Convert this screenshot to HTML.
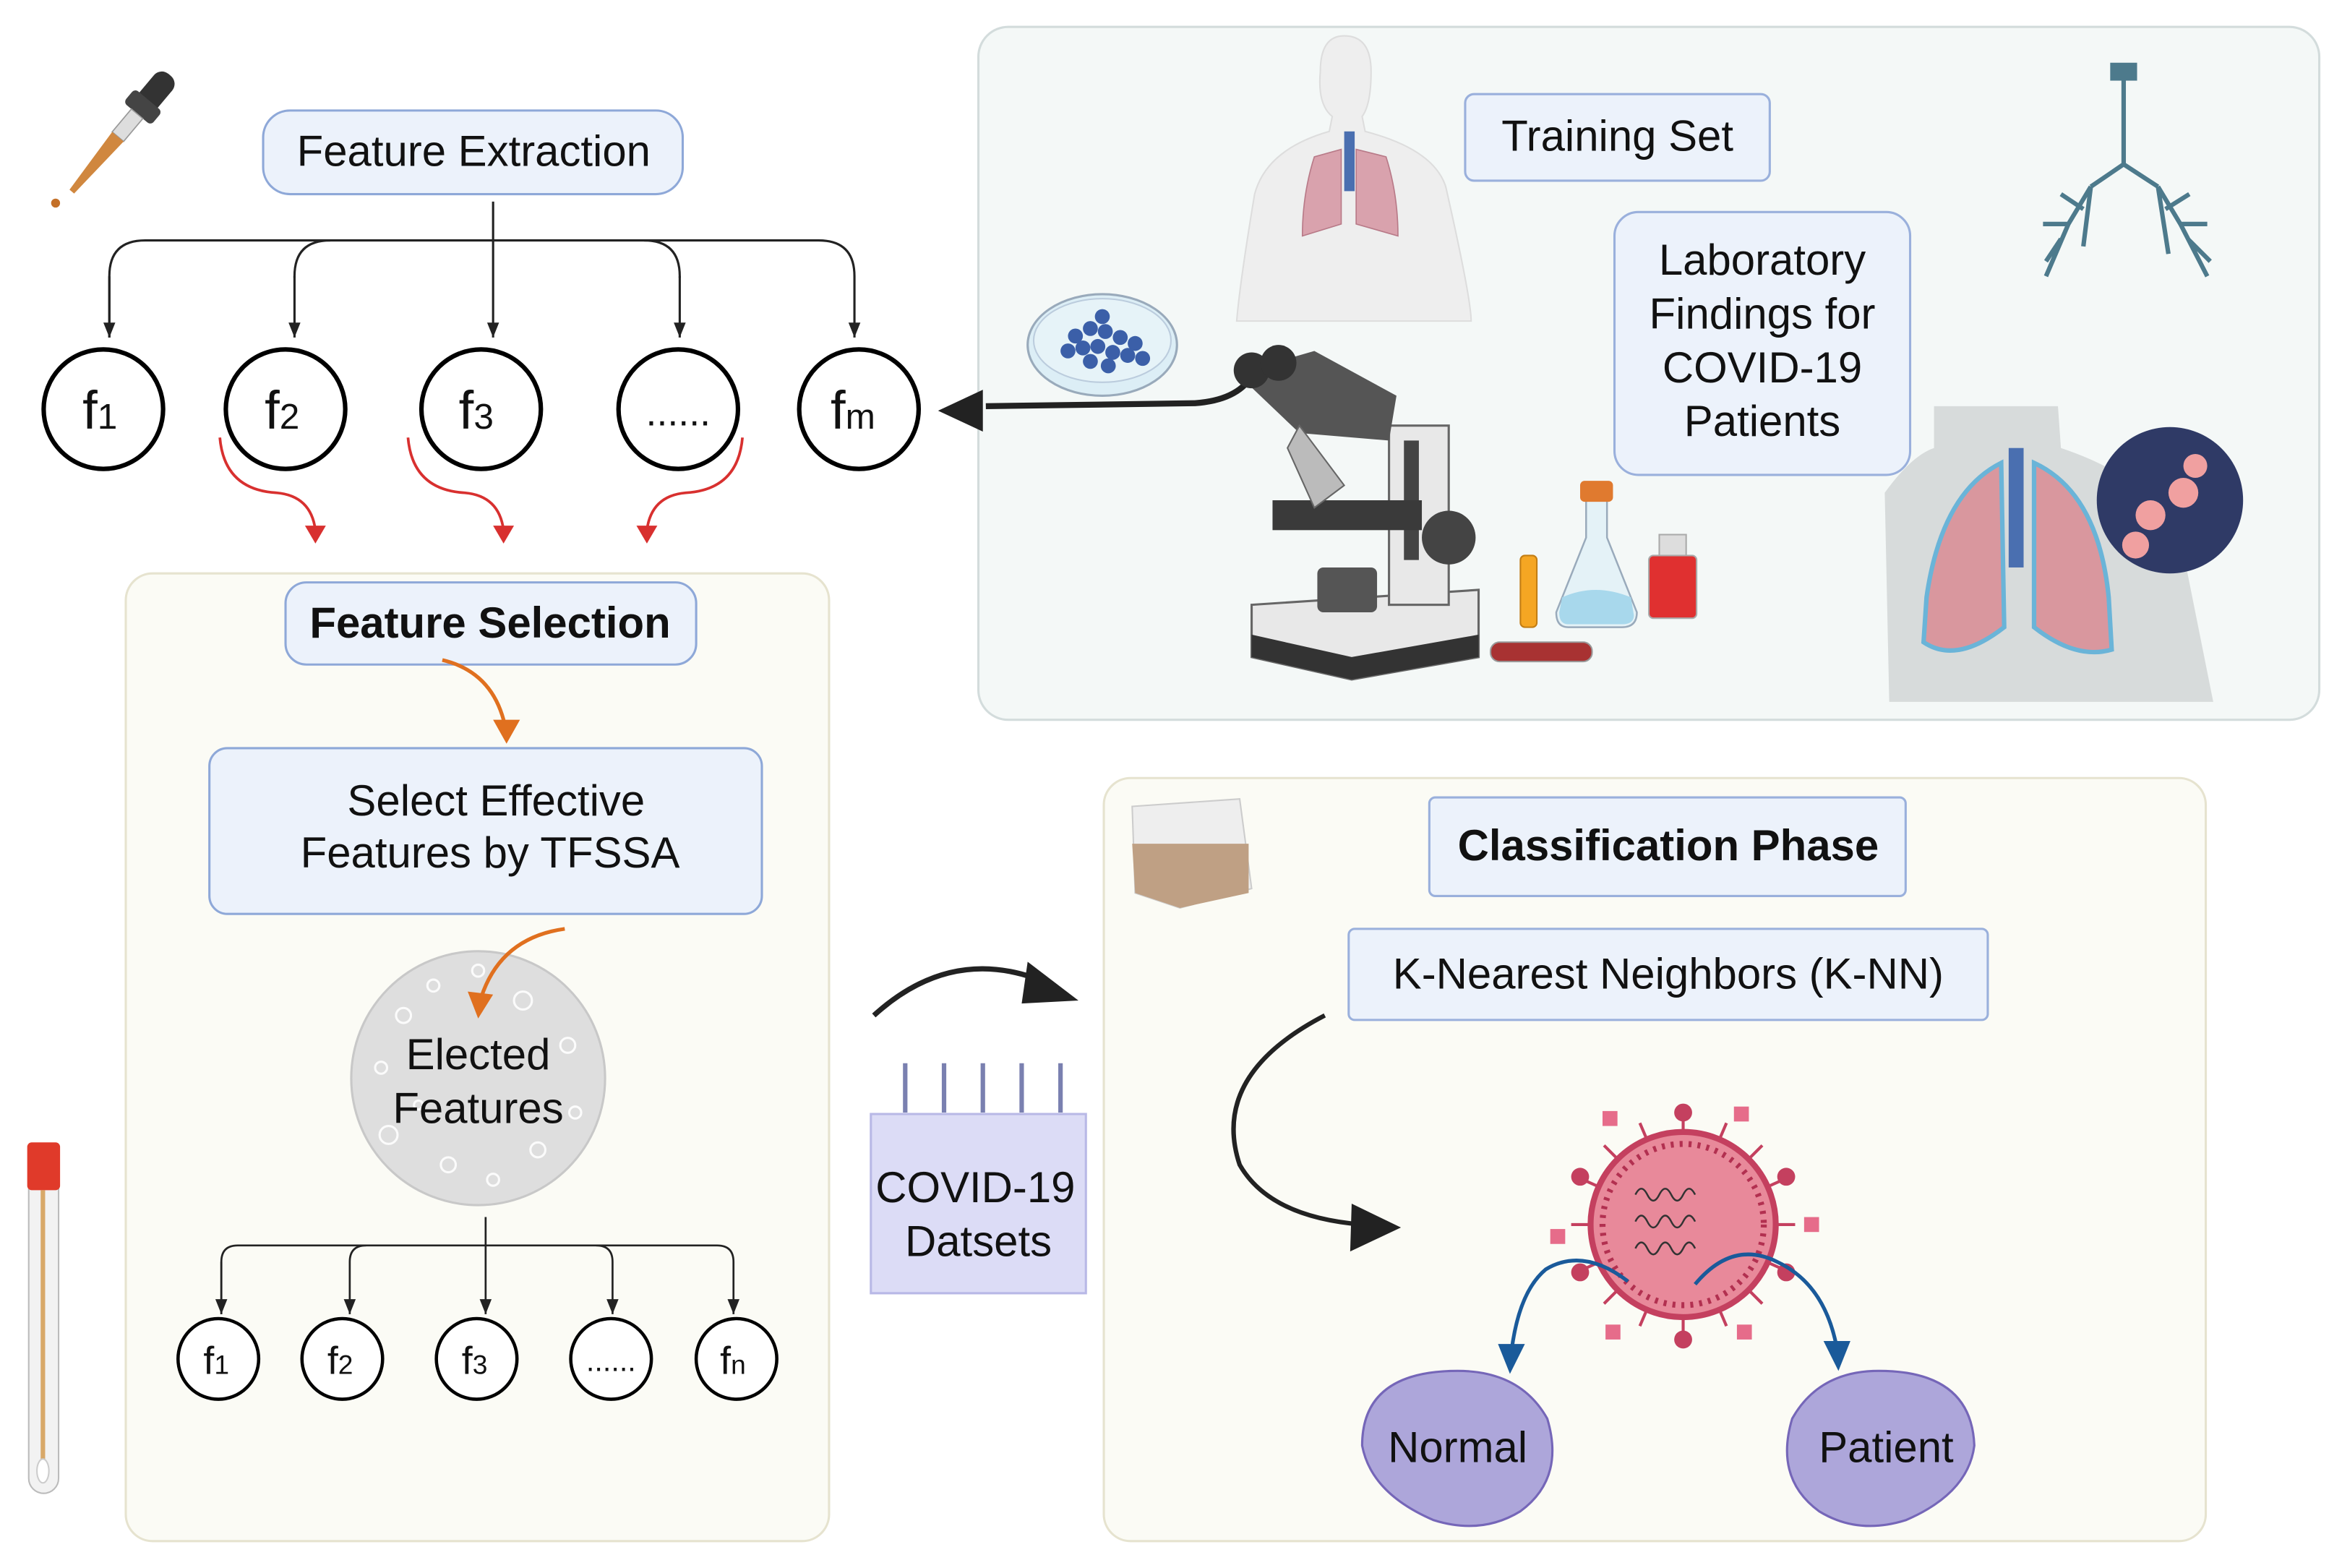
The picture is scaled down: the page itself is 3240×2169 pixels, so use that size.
<!DOCTYPE html>
<html><head><meta charset="utf-8"><style>
html,body{margin:0;padding:0;background:#fff;}
svg{display:block;}
text{font-family:"Liberation Sans",sans-serif;fill:#111;}
</style></head><body>
<svg width="3240" height="2169" viewBox="0 0 1568 1050" xmlns="http://www.w3.org/2000/svg">
<defs>
<marker id="ab" markerWidth="10" markerHeight="10" refX="10" refY="5" orient="auto" markerUnits="userSpaceOnUse"><path d="M0,1 L10,5 L0,9 Z" fill="#222"/></marker>
</defs>
<rect width="1568" height="1050" fill="#fff"/>

<!-- Panels -->
<rect x="655" y="18" width="898" height="464" rx="20" fill="#f4f8f7" stroke="#d3dcdc" stroke-width="1.5"/>
<rect x="84" y="384" width="471" height="648" rx="18" fill="#fbfbf5" stroke="#e6e3cf" stroke-width="1.5"/>
<rect x="739" y="521" width="738" height="511" rx="18" fill="#fbfbf5" stroke="#e6e3cf" stroke-width="1.5"/>

<!-- dropper -->
<g transform="rotate(40 80 90)">
<rect x="72" y="38" width="16" height="30" rx="7" fill="#333"/>
<rect x="68" y="60" width="24" height="12" rx="3" fill="#444"/>
<rect x="75" y="72" width="10" height="20" fill="#ddd" stroke="#999" stroke-width="0.8"/>
<path d="M75,92 L85,92 L82,140 L78,140 Z" fill="#d0873f"/>
</g>
<circle cx="37" cy="136" r="3" fill="#c47028"/>

<!-- Feature extraction -->
<rect x="176" y="74" width="281" height="56" rx="18" fill="#ecf2fb" stroke="#8ea8d8" stroke-width="1.5"/>
<text x="317" y="111" font-size="29" text-anchor="middle">Feature Extraction</text>
<g fill="none" stroke="#222" stroke-width="1.5">
<path d="M330,135 L330,226" marker-end="url(#ab)"/>
<path d="M73,226 L73,185 Q73,161 97,161 L548,161 Q572,161 572,185 L572,226" marker-end="url(#ab)"/>
<path d="M197,186 L197,185 Q197,161 221,161" />
<path d="M455,186 L455,185 Q455,161 431,161" />
<path d="M197,185 L197,226" marker-end="url(#ab)"/>
<path d="M455,185 L455,226" marker-end="url(#ab)"/>
<path d="M73,185 L73,226" marker-end="url(#ab)"/>
</g>
<g fill="#fff" stroke="#000" stroke-width="3">
<ellipse cx="69" cy="274" rx="40" ry="40"/>
<ellipse cx="191" cy="274" rx="40" ry="40"/>
<ellipse cx="322" cy="274" rx="40" ry="40"/>
<ellipse cx="454" cy="274" rx="40" ry="40"/>
<ellipse cx="575" cy="274" rx="40" ry="40"/>
</g>
<g font-size="36">
<text x="55" y="287">f<tspan font-size="24">1</tspan></text>
<text x="177" y="287">f<tspan font-size="24">2</tspan></text>
<text x="307" y="287">f<tspan font-size="24">3</tspan></text>
<text x="454" y="285" text-anchor="middle" font-size="26">......</text>
<text x="556" y="287">f<tspan font-size="24">m</tspan></text>
</g>
<!-- red arrows -->
<g fill="none" stroke="#d8302f" stroke-width="1.8">
<path d="M147,293 Q150,328 185,330 Q208,332 211,355"/>
<path d="M273,293 Q276,328 311,330 Q334,332 337,355"/>
<path d="M497,293 Q494,328 459,330 Q436,332 433,355"/>
</g>
<g fill="#d8302f">
<path d="M204,352 L218,352 L211,364 Z"/>
<path d="M330,352 L344,352 L337,364 Z"/>
<path d="M426,352 L440,352 L433,364 Z"/>
</g>

<!-- big arrow to fm -->
<path d="M660,272 L800,270 Q828,268 838,252" fill="none" stroke="#222" stroke-width="4"/>
<path d="M628,275 L658,261 L658,289 Z" fill="#222"/>

<!-- petri dish -->
<ellipse cx="738" cy="231" rx="50" ry="34" fill="#dceef6" stroke="#9ab" stroke-width="1.5"/>
<ellipse cx="738" cy="228" rx="46" ry="28" fill="#e6f3f8" stroke="#bcd" stroke-width="1"/>
<g fill="#3b5fa8">
<circle cx="720" cy="225" r="5"/><circle cx="730" cy="220" r="5"/><circle cx="740" cy="222" r="5"/><circle cx="750" cy="226" r="5"/><circle cx="760" cy="230" r="5"/><circle cx="715" cy="235" r="5"/><circle cx="725" cy="233" r="5"/><circle cx="735" cy="232" r="5"/><circle cx="745" cy="236" r="5"/><circle cx="755" cy="238" r="5"/><circle cx="730" cy="242" r="5"/><circle cx="742" cy="245" r="5"/><circle cx="765" cy="240" r="5"/><circle cx="738" cy="212" r="5"/>
</g>

<!-- human body -->
<path d="M900,24 Q918,24 918,48 Q918,70 912,78 L914,88 Q960,100 968,125 Q985,200 985,215 L828,215 Q830,190 840,130 Q848,100 890,88 L892,78 Q882,70 884,48 Q884,24 900,24 Z" fill="#eeeeee" stroke="#ddd"/>
<path d="M880,105 Q872,130 872,158 L898,150 L898,100 Z" fill="#d9a2ad" stroke="#b87a88" stroke-width="0.8"/>
<path d="M908,100 L908,150 L936,158 Q936,130 928,105 Z" fill="#d9a2ad" stroke="#b87a88" stroke-width="0.8"/>
<rect x="900" y="88" width="7" height="40" fill="#4a6fb0"/>

<!-- Training set -->
<rect x="981" y="63" width="204" height="58" rx="6" fill="#ecf2fb" stroke="#9ab0dc" stroke-width="1.5"/>
<text x="1083" y="101" font-size="29" text-anchor="middle">Training Set</text>
<rect x="1081" y="142" width="198" height="176" rx="16" fill="#ecf2fb" stroke="#9ab0dc" stroke-width="1.5"/>
<g font-size="29" text-anchor="middle">
<text x="1180" y="184">Laboratory</text>
<text x="1180" y="220">Findings for</text>
<text x="1180" y="256">COVID-19</text>
<text x="1180" y="292">Patients</text>
</g>

<!-- bronchial tree -->
<g stroke="#4d7a8c" stroke-width="3" fill="none">
<path d="M1422,45 L1422,110 L1400,125 M1422,110 L1445,125"/>
<path d="M1400,125 L1385,150 L1370,185 M1400,125 L1395,165 M1385,150 L1368,150 M1380,160 L1370,175 M1395,140 L1380,130"/>
<path d="M1445,125 L1460,150 L1478,185 M1445,125 L1452,170 M1460,150 L1478,150 M1465,160 L1480,175 M1450,140 L1466,130"/>
</g>
<rect x="1413" y="42" width="18" height="12" fill="#4d7a8c"/>

<!-- microscope -->
<g>
<path d="M838,405 L990,395 L990,440 L905,455 L838,440 Z" fill="#e8e8e8" stroke="#666" stroke-width="1.5"/>
<path d="M838,425 L905,440 L990,425 L990,440 L905,455 L838,440 Z" fill="#333"/>
<rect x="930" y="285" width="40" height="120" fill="#e8e8e8" stroke="#666" stroke-width="1.5"/>
<rect x="940" y="295" width="10" height="80" fill="#444"/>
<rect x="852" y="335" width="100" height="20" fill="#3a3a3a"/>
<rect x="882" y="380" width="40" height="30" rx="4" fill="#555"/>
<circle cx="970" cy="360" r="18" fill="#444"/>
<path d="M828,250 L880,235 L935,265 L930,295 L870,290 Z" fill="#555"/>
<circle cx="838" cy="248" r="12" fill="#333"/><circle cx="856" cy="243" r="12" fill="#333"/>
<path d="M870,285 L900,325 L880,340 L862,300 Z" fill="#bbb" stroke="#666"/>
</g>
<!-- tubes/flask -->
<rect x="1018" y="372" width="11" height="48" rx="3" fill="#f5a623" stroke="#c27d14"/>
<path d="M1062,330 L1076,330 L1076,360 L1096,410 Q1096,420 1086,420 L1050,420 Q1042,420 1042,410 L1062,360 Z" fill="#e4f2f7" stroke="#9ab" stroke-width="1.2"/>
<path d="M1046,400 Q1068,390 1092,400 L1094,412 Q1094,418 1086,418 L1050,418 Q1044,418 1044,410 Z" fill="#a8d8ec"/>
<rect x="1058" y="322" width="22" height="14" rx="3" fill="#e07a2f"/>
<rect x="1104" y="372" width="32" height="42" rx="3" fill="#e03030" stroke="#aaa"/>
<rect x="1111" y="358" width="18" height="14" fill="#ddd" stroke="#aaa"/>
<rect x="998" y="430" width="68" height="13" rx="6" fill="#a83232" stroke="#999"/>

<!-- torso with lungs -->
<path d="M1295,272 L1378,272 L1380,300 Q1440,320 1460,360 L1482,470 L1265,470 L1262,330 Q1280,305 1295,300 Z" fill="#d7dbdb"/>
<path d="M1340,310 Q1300,330 1290,400 L1288,430 Q1310,445 1342,420 Z" fill="#d9979e" stroke="#6ab4d8" stroke-width="3"/>
<path d="M1362,310 Q1405,330 1412,400 L1414,435 Q1390,442 1362,420 Z" fill="#d9979e" stroke="#6ab4d8" stroke-width="3"/>
<rect x="1345" y="300" width="10" height="80" fill="#4a6fb0"/>
<circle cx="1453" cy="335" r="49" fill="#2f3a66"/>
<circle cx="1440" cy="345" r="10" fill="#f0a0a0"/><circle cx="1462" cy="330" r="10" fill="#f0a0a0"/><circle cx="1430" cy="365" r="9" fill="#f0a0a0"/><circle cx="1470" cy="312" r="8" fill="#f0a0a0"/>

<!-- Feature selection -->
<rect x="191" y="390" width="275" height="55" rx="14" fill="#ecf2fb" stroke="#8ea8d8" stroke-width="1.5"/>
<text x="328" y="427" font-size="29" font-weight="bold" text-anchor="middle">Feature Selection</text>
<path d="M296,442 Q330,450 338,486" fill="none" stroke="#e0701f" stroke-width="2.5"/>
<path d="M330,482 L348,482 L339,498 Z" fill="#e0701f"/>
<rect x="140" y="501" width="370" height="111" rx="12" fill="#ecf2fb" stroke="#8ea8d8" stroke-width="1.5"/>
<text x="332" y="546" font-size="29" text-anchor="middle">Select Effective</text>
<text x="328" y="581" font-size="29" text-anchor="middle">Features by TFSSA</text>
<circle cx="320" cy="722" r="85" fill="#dedede" stroke="#c8c8c8" stroke-width="1.5"/>
<g fill="none" stroke="#fff" stroke-width="1.5" opacity="0.9">
<circle cx="270" cy="680" r="5"/><circle cx="290" cy="660" r="4"/><circle cx="350" cy="670" r="6"/><circle cx="380" cy="700" r="5"/><circle cx="260" cy="760" r="6"/><circle cx="300" cy="780" r="5"/><circle cx="360" cy="770" r="5"/><circle cx="385" cy="745" r="4"/><circle cx="330" cy="790" r="4"/><circle cx="255" cy="715" r="4"/><circle cx="320" cy="650" r="4"/><circle cx="280" cy="740" r="3"/>
</g>
<path d="M378,622 Q335,628 322,668" fill="none" stroke="#e0701f" stroke-width="2.5"/>
<path d="M313,664 L330,666 L320,682 Z" fill="#e0701f"/>
<text x="320" y="716" font-size="29" text-anchor="middle">Elected</text>
<text x="320" y="752" font-size="29" text-anchor="middle">Features</text>
<g fill="none" stroke="#222" stroke-width="1.3">
<path d="M325,815 L325,880" marker-end="url(#ab)"/>
<path d="M148,880 L148,845 Q148,834 159,834 L480,834 Q491,834 491,845 L491,880" marker-end="url(#ab)"/>
<path d="M148,845 L148,880" marker-end="url(#ab)"/>
<path d="M234,845 Q234,834 245,834"/><path d="M234,845 L234,880" marker-end="url(#ab)"/>
<path d="M410,845 Q410,834 399,834"/><path d="M410,845 L410,880" marker-end="url(#ab)"/>
</g>
<g fill="#fff" stroke="#000" stroke-width="2.2">
<circle cx="146" cy="910" r="27"/><circle cx="229" cy="910" r="27"/><circle cx="319" cy="910" r="27"/><circle cx="409" cy="910" r="27"/><circle cx="493" cy="910" r="27"/>
</g>
<g font-size="26">
<text x="136" y="920">f<tspan font-size="18">1</tspan></text>
<text x="219" y="920">f<tspan font-size="18">2</tspan></text>
<text x="309" y="920">f<tspan font-size="18">3</tspan></text>
<text x="409" y="918" text-anchor="middle" font-size="20">......</text>
<text x="482" y="920">f<tspan font-size="18">n</tspan></text>
</g>

<!-- swab tube left -->
<rect x="19" y="775" width="20" height="225" rx="10" fill="#f2f2f2" stroke="#bbb"/>
<rect x="18" y="765" width="22" height="32" rx="3" fill="#e03a2a"/>
<rect x="27" y="797" width="3" height="185" fill="#d8a868"/>
<ellipse cx="28.5" cy="985" rx="4" ry="8" fill="#fff" stroke="#ccc"/>

<!-- datasets -->
<path d="M585,680 Q640,630 705,660" fill="none" stroke="#222" stroke-width="3.5"/>
<path d="M688,644 L722,670 L684,672 Z" fill="#222"/>
<rect x="583" y="746" width="144" height="120" fill="#dcdcf6" stroke="#b8b8e6" stroke-width="1.5"/>
<g stroke="#7a80b0" stroke-width="3">
<line x1="606" y1="712" x2="606" y2="745"/><line x1="632" y1="712" x2="632" y2="745"/><line x1="658" y1="712" x2="658" y2="745"/><line x1="684" y1="712" x2="684" y2="745"/><line x1="710" y1="712" x2="710" y2="745"/>
</g>
<text x="653" y="805" font-size="29" text-anchor="middle">COVID-19</text>
<text x="655" y="841" font-size="29" text-anchor="middle">Datsets</text>

<!-- Classification -->
<path d="M758,540 L830,535 L838,595 L790,608 L760,598 Z" fill="#eeeeee" stroke="#ccc"/>
<path d="M758,565 L836,565 L836,598 L790,608 L760,598 Z" fill="#bfa084"/>
<rect x="957" y="534" width="319" height="66" rx="4" fill="#ecf2fb" stroke="#9ab0dc" stroke-width="1.5"/>
<text x="1117" y="576" font-size="29" font-weight="bold" text-anchor="middle">Classification Phase</text>
<rect x="903" y="622" width="428" height="61" rx="4" fill="#ecf2fb" stroke="#9ab0dc" stroke-width="1.5"/>
<text x="1117" y="662" font-size="29" text-anchor="middle">K-Nearest Neighbors (K-NN)</text>
<path d="M887,680 Q810,720 830,780 Q850,815 912,820" fill="none" stroke="#222" stroke-width="3"/>
<path d="M905,806 L938,822 L904,838 Z" fill="#222"/>

<!-- virus -->
<g stroke="#c4405f" stroke-width="2">
<line x1="1127" y1="745" x2="1127" y2="895"/><line x1="1052" y1="820" x2="1202" y2="820"/>
<line x1="1074" y1="767" x2="1180" y2="873"/><line x1="1180" y1="767" x2="1074" y2="873"/>
<line x1="1098" y1="752" x2="1156" y2="888"/><line x1="1156" y1="752" x2="1098" y2="888"/>
<line x1="1060" y1="790" x2="1194" y2="850"/><line x1="1194" y1="790" x2="1060" y2="850"/>
</g>
<g fill="#c4405f">
<circle cx="1127" cy="745" r="6"/><circle cx="1127" cy="897" r="6"/><circle cx="1058" cy="788" r="6"/><circle cx="1196" cy="788" r="6"/><circle cx="1058" cy="852" r="6"/><circle cx="1196" cy="852" r="6"/>
<rect x="1073" y="744" width="10" height="10" fill="#e66c8a"/><rect x="1161" y="741" width="10" height="10" fill="#e66c8a"/><rect x="1075" y="887" width="10" height="10" fill="#e66c8a"/><rect x="1163" y="887" width="10" height="10" fill="#e66c8a"/><rect x="1038" y="823" width="10" height="10" fill="#e66c8a"/><rect x="1208" y="815" width="10" height="10" fill="#e66c8a"/>
</g>
<circle cx="1127" cy="820" r="62" fill="#e8899a" stroke="#c4405f" stroke-width="4"/>
<circle cx="1127" cy="820" r="54" fill="none" stroke="#b23050" stroke-width="4" stroke-dasharray="2 4"/>
<g fill="none" stroke="#333" stroke-width="1.2">
<path d="M1095,800 q4,-8 8,0 t8,0 t8,0 t8,0 t8,0"/><path d="M1095,818 q4,-8 8,0 t8,0 t8,0 t8,0 t8,0"/><path d="M1095,836 q4,-8 8,0 t8,0 t8,0 t8,0 t8,0"/>
</g>
<!-- blue arrows -->
<g fill="none" stroke="#1a5a9a" stroke-width="2.5">
<path d="M1090,858 Q1060,835 1035,850 Q1017,865 1012,905"/>
<path d="M1135,860 Q1160,830 1190,845 Q1222,860 1230,903"/>
</g>
<path d="M1003,900 L1021,900 L1011,920 Z" fill="#1a5a9a"/>
<path d="M1221,898 L1239,898 L1231,918 Z" fill="#1a5a9a"/>

<path d="M976,918 Q1018,918 1036,950 Q1048,990 1018,1012 Q992,1028 960,1018 Q918,1000 912,968 Q912,918 976,918 Z" fill="#ada6da" stroke="#7566b8" stroke-width="1.5"/>
<path d="M1258,918 Q1320,918 1322,968 Q1318,1000 1276,1018 Q1244,1028 1218,1012 Q1188,990 1200,950 Q1218,918 1258,918 Z" fill="#ada6da" stroke="#7566b8" stroke-width="1.5"/>
<text x="976" y="979" font-size="29" text-anchor="middle">Normal</text>
<text x="1263" y="979" font-size="29" text-anchor="middle">Patient</text>
</svg>
</body></html>
